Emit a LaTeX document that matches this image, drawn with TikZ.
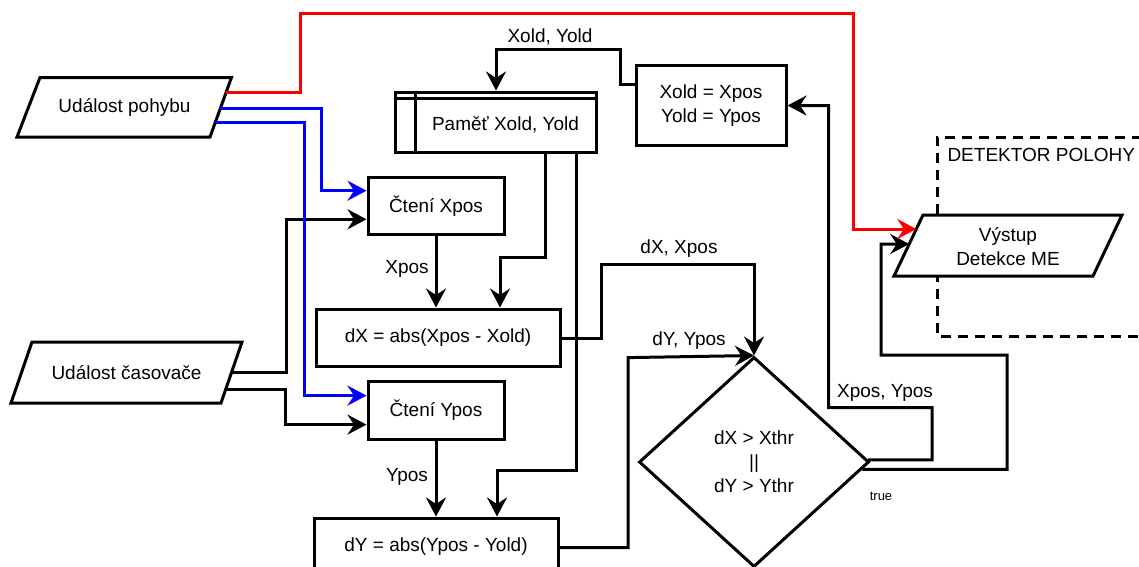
\documentclass[tikz,border=0pt]{standalone}
\usepackage{fontspec}
\setmainfont{Liberation Sans}
\usetikzlibrary{arrows.meta,shapes.geometric,calc}

\begin{document}
\begin{tikzpicture}[x=1pt,y=-1pt,
  line width=3pt,
  every node/.style={font=\fontsize{19}{24}\selectfont},
  proc/.style={draw, rectangle, fill=white, inner sep=0pt, align=center},
  io/.style={draw, fill=white, line join=miter},
  flow/.style={-{Stealth[length=19pt,width=20pt,inset=6.5pt]}},
  lbl/.style={inner sep=0pt},
  group/.style={draw, dash pattern=on 10pt off 7pt}
]
\path[use as bounding box] (0,0) rectangle (1139,566);
\clip (0,0) rectangle (1139,566);

% dashed group frame
\draw[group] (1160,137) rectangle (937,336);
\node[lbl, anchor=west] (grp) at (946,155) {DETEKTOR POLOHY};

% input / output parallelograms
\draw[io] (17,137) -- (40,77.5) -- (231.5,77.5) -- (210,137) -- cycle;
\node (pohyb) at (124.5,107.5) {Událost pohybu};
\coordinate (pohybR)  at (226,92.7);
\coordinate (pohybB1) at (220.2,108.3);
\coordinate (pohybB2) at (214.8,122.7);

\draw[io] (11,403) -- (32,342) -- (242,342) -- (221,403) -- cycle;
\node (casov) at (126.5,372.5) {Událost časovače};
\coordinate (casA) at (231.5,372.5);
\coordinate (casB) at (225.8,389);

\draw[io] (894,276) -- (923,215) -- (1122,215) -- (1093,276) -- cycle;
\node[align=center] (vystup) at (1008,246.5) {Výstup\\Detekce ME};
\coordinate (vystupA) at (916.3,229);
\coordinate (vystupB) at (909.2,244);

% process boxes
\node[proc, minimum width=136pt, minimum height=57pt] (ctX) at (436,206) {Čtení Xpos};
\node[proc, minimum width=136pt, minimum height=58pt] (ctY) at (436,410) {Čtení Ypos};
\node[proc, minimum width=244pt, minimum height=57pt] (dX) at (438,337.5) {dX = abs(Xpos - Xold)};
\node[proc, minimum width=244pt, minimum height=58pt] (dY) at (436,547) {dY = abs(Ypos - Yold)};
\node[proc, minimum width=150pt, minimum height=80pt] (xold) at (711,105.5) {Xold = Xpos\\Yold = Ypos};

% internal storage
\node[proc, minimum width=201pt, minimum height=60pt] (pamet) at (495.5,122) {};
\draw ([xshift=21.5pt]pamet.north west) -- ([xshift=21.5pt]pamet.south west);
\draw ([yshift=-7.5pt]pamet.north west) -- ([yshift=-7.5pt]pamet.north east);
\node (pametTxt) at (505.5,125) {Paměť Xold, Yold};

% decision
\node[draw, diamond, fill=white, minimum width=230pt, minimum height=210pt,
      inner sep=0pt, align=center] (cond) at (754,462) {dX > Xthr\\||\\dY > Ythr};

% connectors
\draw[flow] (casA) -| (286.7,219.3) -- (ctX.west |- 0,219.3);
\draw[flow] (casB) -| (285,424.6) -- (ctY.west |- 0,424.6);

\draw[flow, blue] (pohybB1) -| (321.7,190.7) -- (ctX.west |- 0,190.7);
\draw[flow, blue] (pohybB2) -| (304.3,395.6) -- (ctY.west |- 0,395.6);

\draw[flow] (ctX.south) -- (ctX.south |- dX.north);
\node[lbl] (lXpos) at (407,269) {Xpos};
\draw[flow] (ctY.south) -- (ctY.south |- dY.north);
\node[lbl] (lYpos) at (407,476.6) {Ypos};

\draw[flow] ([xshift=50.2pt]pamet.south) |- (500,257) -- (dX.north -| 500,0);
\draw[flow] ([xshift=80.5pt]pamet.south) |- (497,470.5) -- (dY.north -| 497,0);

\draw[flow] ([yshift=21.2pt]xold.west) -| (620.7,49.3) -| (pamet.north -| 496,0);
\node[lbl] (lOld) at (550,37) {Xold, Yold};

\draw[flow] ([yshift=-0.5pt]dX.east) -| (601,264) -| (cond.north);
\node[lbl] (ldX) at (679,249) {dX, Xpos};

\draw[flow] ([yshift=-0.5pt]dY.east) -| (628,357.6) -- (cond.north);
\node[lbl] (ldY) at (689,341) {dY, Ypos};

\draw[flow] ($(cond.east)!0.02!(cond.north)$) -- (932,459.8) |- (828.7,407.5) |- (xold.east);
\node[lbl] (lXY) at (885,393) {Xpos, Ypos};

\draw[flow] ($(cond.east)!0.07!(cond.south)$) -- (1007,469.4) |- (881,355) |- (vystupB);
\node[lbl, font=\fontsize{13}{15}\selectfont] (ltrue) at (881,496) {true};

\draw[flow, red] (pohybR) -| (300,13.5) -| (853,229) -- (vystupA);
\end{tikzpicture}
\end{document}
